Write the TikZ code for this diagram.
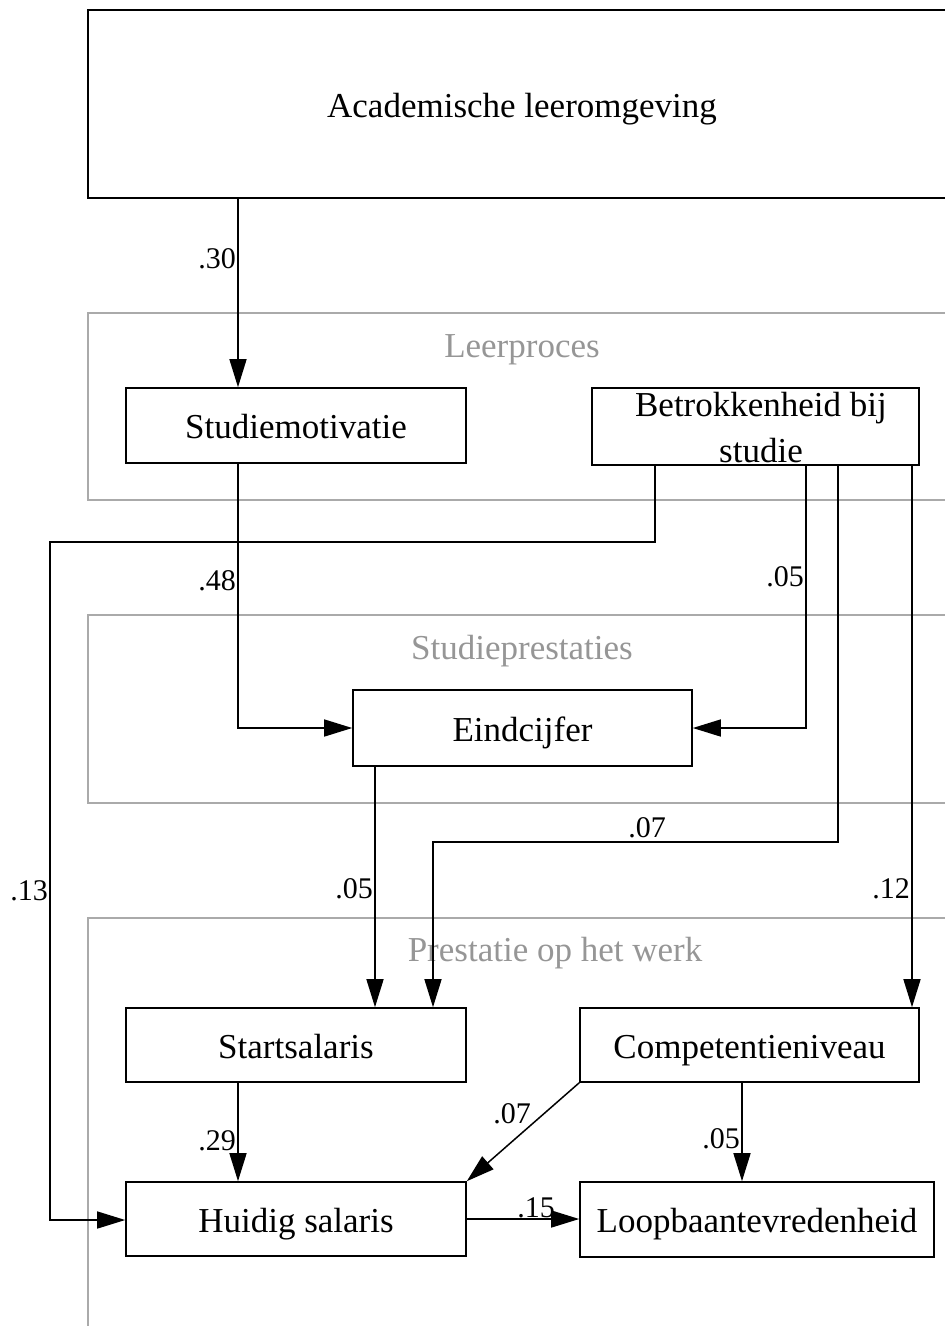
\documentclass[tikz,border=0pt]{standalone}
\usepackage{fontspec}
\setmainfont{Liberation Serif}
\usetikzlibrary{arrows.meta}
\definecolor{groupline}{RGB}{170,170,170}
\definecolor{grouptext}{RGB}{150,150,150}
\tikzset{
  box/.style={draw=black, line width=1.6pt, fill=white, inner sep=0pt,
              text height=28pt, text depth=2pt,
              font=\fontsize{35}{40}\selectfont},
  grp/.style={draw=groupline, line width=1.6pt},
  grptitle/.style={text=grouptext, font=\fontsize{35}{40}\selectfont,
                   inner sep=0pt, anchor=base},
  coef/.style={font=\fontsize{30}{34}\selectfont, inner sep=1pt},
  path/.style={draw=black, line width=1.5pt,
               -{Triangle[length=28pt,width=17pt]}},
}
\begin{document}
\begin{tikzpicture}[x=1pt,y=-1pt]
\useasboundingbox (0,0) rectangle (945,1326);

% group frames (open towards the right edge)
\draw[grp] (960,313) -- (88,313) -- (88,500) -- (960,500);
\draw[grp] (960,615) -- (88,615) -- (88,803) -- (960,803);
\draw[grp] (960,918) -- (88,918) -- (88,1340);

% group titles
\node[grptitle] (tLeer) at (522,357) {Leerproces};
\node[grptitle] (tStud) at (522,659) {Studieprestaties};
\node[grptitle] (tWerk) at (555,961) {Prestatie op het werk};

% variables
\node[box, minimum width=868, minimum height=188] (aca) at (522,104) {Academische leeromgeving};
\node[box, minimum width=340, minimum height=75] (mot) at (296,425.5) {Studiemotivatie};
\node[box, minimum width=327, minimum height=77] (bet) at (755.5,426.5) {};
\node[font=\fontsize{35}{46}\selectfont, align=center, inner sep=0pt, anchor=base] (betT) at (761,462) {Betrokkenheid bij\\studie};
\node[box, minimum width=339, minimum height=76] (eind) at (522.5,728) {Eindcijfer};
\node[box, minimum width=340, minimum height=74] (start) at (296,1045) {Startsalaris};
\node[box, minimum width=339, minimum height=74] (comp) at (749.5,1045) {Competentieniveau};
\node[box, minimum width=340, minimum height=74] (huid) at (296,1219) {Huidig salaris};
\node[box, minimum width=354, minimum height=75] (loop) at (757,1219.5) {Loopbaantevredenheid};

% bend points of the routed paths
\coordinate (b13a) at (655,542);
\coordinate (b13b) at (50,542);
\coordinate (b13c) at (50,1220);
\coordinate (b48) at (238,728);
\coordinate (b05) at (806,728);
\coordinate (b07a) at (838,842);
\coordinate (b07b) at (433,842);

% paths
\draw[path] (aca.south -| 238,0) -- (mot.north -| 238,0);
\draw[path] (mot.south -| b48) -- (b48) -- (eind.west |- b48);
\draw[path] (bet.south -| b05) -- (b05) -- (eind.east |- b05);
\draw[path] (bet.south -| b13a) -- (b13a) -- (b13b) -- (b13c) -- (huid.west |- b13c);
\draw[path] (bet.south -| b07a) -- (b07a) -- (b07b) -- (start.north -| b07b);
\draw[path] (bet.south -| 912,0) -- (comp.north -| 912,0);
\draw[path] (eind.south -| 375,0) -- (start.north -| 375,0);
\draw[path] (start.south -| 238,0) -- (huid.north -| 238,0);
\draw[path] (comp.south west) -- (huid.north east);
\draw[path] (comp.south -| 742,0) -- (loop.north -| 742,0);
\draw[path] (huid.east) -- (loop.west |- huid.east);

% coefficients
\node[coef, anchor=base east] (c30) at (237,268) {.30};
\node[coef, anchor=base east] (c48) at (237,590) {.48};
\node[coef, anchor=base east] (c05a) at (805,586) {.05};
\node[coef, anchor=base east] (c13) at (49,900) {.13};
\node[coef, anchor=base] (c07a) at (647,837) {.07};
\node[coef, anchor=base east] (c05b) at (374,898) {.05};
\node[coef, anchor=base east] (c12) at (911,898) {.12};
\node[coef, anchor=base east] (c29) at (237,1150) {.29};
\node[coef, anchor=base] (c07b) at (512,1123) {.07};
\node[coef, anchor=base east] (c05c) at (741,1148) {.05};
\node[coef, anchor=base] (c15) at (536,1217) {.15};
\end{tikzpicture}
\end{document}
